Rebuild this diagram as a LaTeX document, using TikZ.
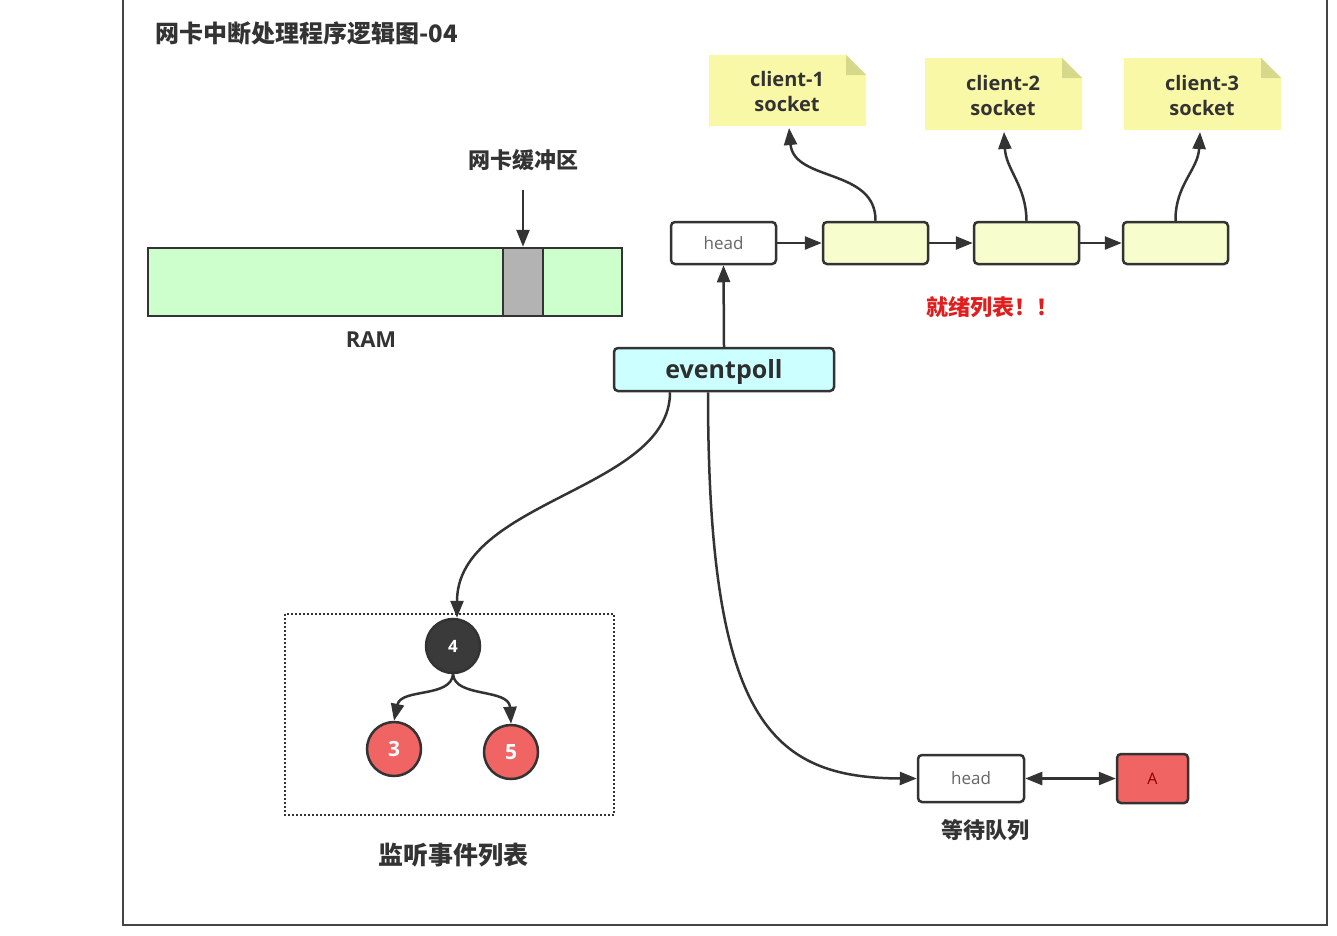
\documentclass[tikz,border=0pt]{standalone}
\usepackage{fontspec}
\setmainfont{Open Sans}
\newfontfamily\cjk{Noto Sans CJK SC}
\usetikzlibrary{arrows.meta}
\definecolor{ink}{HTML}{333333}
\definecolor{framec}{HTML}{444444}
\definecolor{ramgreen}{HTML}{CCFFCC}
\definecolor{bufgray}{HTML}{B3B3B3}
\definecolor{nodeyellow}{HTML}{F8FDCD}
\definecolor{noteyellow}{HTML}{F8F8A6}
\definecolor{notefold}{HTML}{D8D88C}
\definecolor{epcyan}{HTML}{CCFFFF}
\definecolor{rednode}{HTML}{F06464}
\definecolor{darknode}{HTML}{3A3A3A}
\definecolor{redtext}{HTML}{E01E1E}
\definecolor{headtext}{HTML}{666666}
\tikzset{
  conn/.style={draw=ink, line width=2.5pt, -{Triangle[length=17pt,width=13pt]}},
  biconn/.style={draw=ink, line width=2.5pt, {Triangle[length=17pt,width=13pt]}-{Triangle[length=17pt,width=13pt]}},
  listbox/.style={draw=ink, line width=2.5pt, rounded corners=4pt, minimum width=105pt, minimum height=42pt, inner sep=0pt,
    font=\fontsize{17}{20}\selectfont, text=headtext},
  cjklabel/.style={text=ink, font=\cjk\bfseries\fontsize{22}{26}\selectfont},
  notetext/.style={text=ink, align=center, font=\bfseries\fontsize{20}{25}\selectfont},
  treenode/.style={circle, draw=ink, line width=2.5pt, minimum size=54pt, inner sep=0pt, text=white}
}
\newcommand{\notebg}[4]{% left, top, right, bottom
  \fill[noteyellow] (#1,#2) -- (#3-20,#2) -- (#3,#2+20) -- (#3,#4) -- (#1,#4) -- cycle;
  \fill[notefold] (#3-20,#2) -- (#3,#2+20) -- (#3-20,#2+20) -- cycle;
}
\begin{document}
\begin{tikzpicture}[x=1pt,y=-1pt]
\useasboundingbox (0,0) rectangle (1337,935);
\fill[white] (0,0) rectangle (1337,935);
% frame
\draw[framec, line width=2.5pt] (123,-5) -- (123,925) -- (1327,925) -- (1327,-5);

% title
\node[anchor=west, text=ink, font=\cjk\bfseries\fontsize{24}{27}\selectfont] (title) at (152,33) {网卡中断处理程序逻辑图-04};

% RAM
\node[draw=ink, line width=2.5pt, fill=ramgreen, minimum width=474pt, minimum height=68pt, inner sep=0pt] (ram) at (385,282) {};
\node[draw=ink, line width=2.5pt, fill=bufgray, minimum width=40pt, minimum height=68pt, inner sep=0pt] (buf) at (523,282) {};
\node[text=ink, font=\bfseries\fontsize{22}{24}\selectfont] (ramlabel) at (371,340) {RAM};
\node[cjklabel] (buflabel) at (523,160) {网卡缓冲区};
\coordinate (bufin) at (523,190);
\draw[conn] (bufin) -- (buf.north);

% notes
\notebg{709}{55}{866}{126}
\node[notetext] (c1) at (787,91) {client-1\\socket};
\notebg{925}{58}{1082}{130}
\node[notetext] (c2) at (1003,95) {client-2\\socket};
\notebg{1124}{58}{1281}{130}
\node[notetext] (c3) at (1202,95) {client-3\\socket};
\coordinate (c1b) at (789,128);
\coordinate (c2b) at (1004,132);
\coordinate (c3b) at (1200,132);

% ready list
\node[listbox, fill=white] (h1) at (723.5,243) {head};
\node[listbox, fill=nodeyellow] (b1) at (875.5,243) {};
\node[listbox, fill=nodeyellow] (b2) at (1026.5,243) {};
\node[listbox, fill=nodeyellow] (b3) at (1175.5,243) {};
\draw[conn] (h1) -- (b1);
\draw[conn] (b1) -- (b2);
\draw[conn] (b2) -- (b3);
\draw[conn] (b1.north) .. controls (876,168) and (794,182) .. (c1b);
\draw[conn] (b2.north) .. controls (1026,185) and (1006,170) .. (c2b);
\draw[conn] (b3.north) .. controls (1175,185) and (1198,170) .. (c3b);
\node[text=redtext, font=\cjk\bfseries\fontsize{22}{25}\selectfont] (ready) at (992,307) {就绪列表！！};

% eventpoll
\node[draw=ink, line width=2.5pt, fill=epcyan, rounded corners=4pt, minimum width=220pt, minimum height=43pt, inner sep=0pt] (ep) at (724,369.5) {};
\node[text=ink!90!black, font=\bfseries\fontsize{25}{28}\selectfont] (eptext) at (724,371.5) {eventpoll};
\draw[conn] (ep.north) -- (h1.south);

% tree
\draw[ink, line width=2pt, dash pattern=on 2pt off 2pt] (285,614) rectangle (614,815);
\node[treenode, fill=darknode, font=\bfseries\fontsize{17}{19}\selectfont] (n4) at (453,646) {4};
\node[treenode, fill=rednode, font=\bfseries\fontsize{21}{24}\selectfont] (n3) at (394,749) {3};
\node[treenode, fill=rednode, font=\bfseries\fontsize{21}{24}\selectfont] (n5) at (511,752) {5};
\draw[conn] (n4.south) .. controls (451,698) and (401,688) .. (n3.north);
\draw[conn] (n4.south) .. controls (455,698) and (509,688) .. (n5.north);
\node[cjklabel, font=\cjk\bfseries\fontsize{25}{28}\selectfont] (treelabel) at (453,855) {监听事件列表};

\draw[conn] ([xshift=-54pt]ep.south) .. controls (670,490) and (457,500) .. ([xshift=4pt]n4.north);

% wait queue
\node[listbox, fill=white, minimum width=106pt, minimum height=47pt] (h2) at (971,778.5) {head};
\node[draw=ink, line width=2.5pt, fill=rednode, rounded corners=4pt, minimum width=71pt, minimum height=49pt, inner sep=0pt,
  text=red!55!black, font=\fontsize{16}{18}\selectfont] (qa) at (1152.5,778.5) {A};
\draw[biconn] (h2) -- (qa);
\node[cjklabel] (waitlabel) at (985,830) {等待队列};
\draw[conn] ([xshift=-16pt]ep.south) .. controls (708,720) and (770,778) .. (h2.west);
\end{tikzpicture}
\end{document}
